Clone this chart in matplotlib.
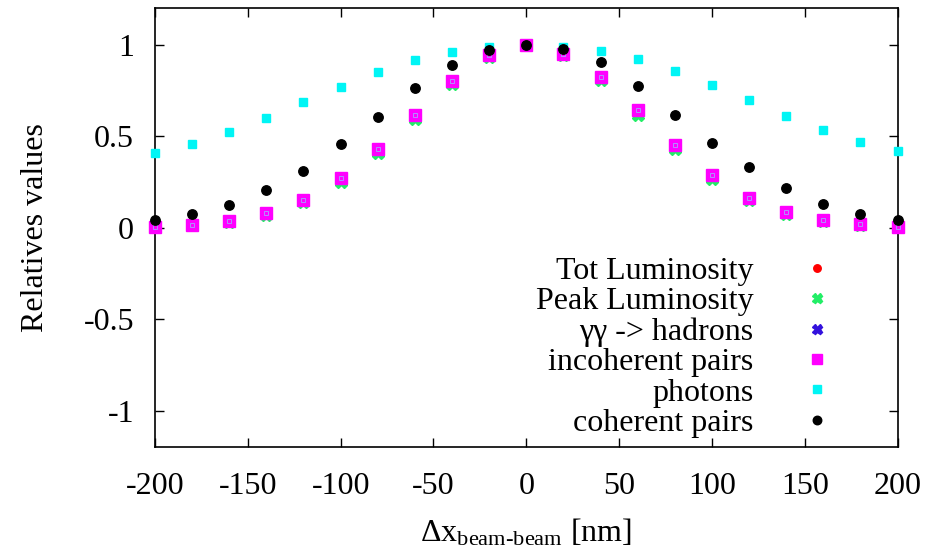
import matplotlib
matplotlib.use("Agg")
import matplotlib.pyplot as plt

# --- datos ---
dx = [-200, -180, -160, -140, -120, -100, -80, -60, -40, -20, 0,
      20, 40, 60, 80, 100, 120, 140, 160, 180, 200]

tot_lumi = [0.005, 0.015, 0.034, 0.075, 0.149, 0.262, 0.423, 0.610, 0.797, 0.940, 1.0,
            0.948, 0.816, 0.633, 0.442, 0.280, 0.160, 0.081, 0.038, 0.017, 0.005]
peak_lumi = [0.004, 0.013, 0.031, 0.071, 0.142, 0.252, 0.409, 0.595, 0.785, 0.935, 1.0,
             0.943, 0.805, 0.618, 0.428, 0.268, 0.152, 0.077, 0.035, 0.015, 0.004]
gg_hadrons = [0.005, 0.016, 0.036, 0.078, 0.153, 0.269, 0.431, 0.618, 0.804, 0.942, 1.0,
              0.951, 0.823, 0.642, 0.451, 0.287, 0.164, 0.084, 0.040, 0.018, 0.005]
incoh_pairs = [0.005, 0.016, 0.036, 0.078, 0.153, 0.269, 0.431, 0.618, 0.804, 0.942, 1.0,
               0.951, 0.823, 0.642, 0.451, 0.287, 0.164, 0.084, 0.040, 0.018, 0.005]
photons = [0.409, 0.460, 0.524, 0.600, 0.684, 0.769, 0.851, 0.914, 0.960, 0.987, 1.0,
           0.987, 0.965, 0.920, 0.858, 0.782, 0.695, 0.609, 0.533, 0.469, 0.417]
coh_pairs = [0.040, 0.073, 0.124, 0.206, 0.311, 0.455, 0.605, 0.764, 0.891, 0.969, 1.0,
             0.978, 0.905, 0.775, 0.618, 0.462, 0.331, 0.216, 0.131, 0.075, 0.044]

xticks = [-200, -150, -100, -50, 0, 50, 100, 150, 200]
yticks = [-1, -0.5, 0, 0.5, 1]
ytick_labels = ["-1", "-0.5", "0", "0.5", "1"]

plt.rcParams["font.family"] = ["Liberation Serif", "DejaVu Serif"]
plt.rcParams["mathtext.fontset"] = "custom"
plt.rcParams["mathtext.rm"] = "Liberation Serif"
plt.rcParams["mathtext.it"] = "Liberation Serif:italic"

FS = 23

fig = plt.figure(figsize=(9.27, 5.48), dpi=100)
ax = fig.add_axes([0.1672, 0.1834, 0.8010, 0.8020])

kw = dict(linestyle="none", clip_on=False)
ax.plot(dx, tot_lumi, marker="o", ms=6, color="#ff0000", label="Tot Luminosity", zorder=3, **kw)
ax.plot(dx, peak_lumi, marker="X", ms=8, color="#22ee66", mec="#22ee66", label="Peak Luminosity", zorder=3.1, **kw)
ax.plot(dx, gg_hadrons, marker="X", ms=8, color="#3311dd", mec="#3311dd", label="γγ -> hadrons", zorder=3.2, **kw)
ax.plot(dx, photons, marker="s", ms=6, color="#00f5f5", mec="#00f5f5", label="photons", zorder=3.3, **kw)
ax.plot(dx, incoh_pairs, marker="s", ms=8.5, color="#ff00ff", mec="#ff00ff", label="incoherent pairs", zorder=3.4, **kw)
# pequeño cuadrado interior del marcador magenta
ax.plot(dx, incoh_pairs, marker="s", ms=3, mfc="none", mec="#b090ff", mew=0.7, zorder=3.45, **kw)
ax.plot(dx, coh_pairs, marker="o", ms=6.8, color="black", label="coherent pairs", zorder=3.5, **kw)

ax.set_xlim(-200, 200)
ax.set_ylim(-1.2, 1.2)
ax.set_xticks(xticks)
ax.set_xticklabels([str(v) for v in xticks])
ax.set_yticks(yticks)
ax.set_yticklabels(ytick_labels)
ax.tick_params(direction="in", length=6.5, width=1, labelsize=FS,
               top=True, right=True)
ax.tick_params(axis="y", pad=15)
ax.tick_params(axis="x", pad=18)
for s in ax.spines.values():
    s.set_linewidth(1.2)

ax.set_ylabel("Relatives values", fontsize=FS, labelpad=24)
ax.set_xlabel(r"$\Delta$x$_{\text{beam-beam}}$ [nm]", fontsize=FS, labelpad=11)

# leyenda estilo gnuplot: texto alineado a la derecha, marcador despues
handles, labels = ax.get_legend_handles_labels()
order = ["Tot Luminosity", "Peak Luminosity", "γγ -> hadrons",
         "incoherent pairs", "photons", "coherent pairs"]
hmap = dict(zip(labels, handles))
hs = [hmap[l] for l in order]
leg = ax.legend(hs, order, loc="lower right", bbox_to_anchor=(0.948, 0.0),
                frameon=False, markerfirst=False, numpoints=1, fontsize=FS,
                handlelength=2, handletextpad=1.0, labelspacing=0.03,
                borderpad=0, borderaxespad=0.3, markerscale=0.9)
for col in leg._legend_handle_box.get_children():
    col.align = "right"

fig.savefig("out.png", dpi=100)
